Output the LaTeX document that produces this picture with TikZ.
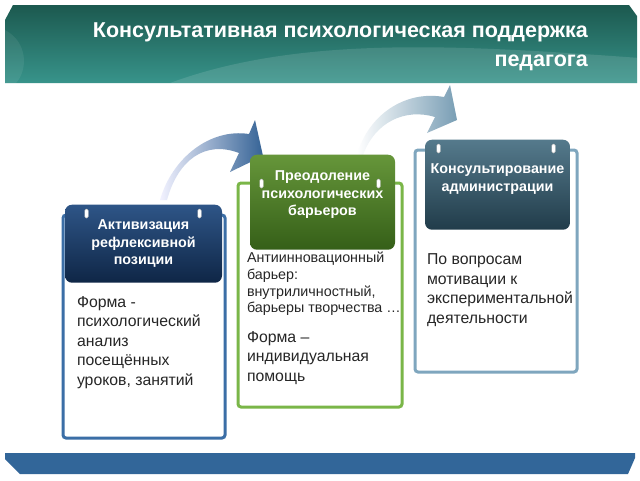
\documentclass[tikz,border=0pt]{standalone}
\usepackage{fontspec}
\setmainfont{Liberation Sans}
\usepackage{tikz}
\usetikzlibrary{positioning, calc}

\definecolor{bannertop}{HTML}{1A554B}
\definecolor{bannermid}{HTML}{1F6258}
\definecolor{bannerbot}{HTML}{3A9990}
\definecolor{barblue}{HTML}{326699}
\definecolor{textgray}{HTML}{262626}
\definecolor{frameblue}{HTML}{3B6EA6}
\definecolor{framegreen}{HTML}{7AB648}
\definecolor{framesteel}{HTML}{7FA6BE}
\definecolor{navytop}{HTML}{2E5587}
\definecolor{navybot}{HTML}{0F2646}
\definecolor{greentop}{HTML}{66963A}
\definecolor{greenbot}{HTML}{355F18}
\definecolor{slatetop}{HTML}{557A8C}
\definecolor{slatebot}{HTML}{213C4A}

\begin{document}
\begin{tikzpicture}[
			x=1pt, y=-1pt,
			every node/.style={inner sep=0pt},
			cardframe/.style={draw=#1, line width=3pt, rounded corners=3pt, fill=white, minimum width=162pt, minimum height=223pt},
			cardhead/.style={rounded corners=7pt, minimum width=145pt, minimum height=90pt},
			headtext/.style={text=white, font=\bfseries\fontsize{14.3}{17.5}\selectfont, align=center},
			bodytext/.style={text=textgray, font=\fontsize{15.8}{19.5}\selectfont, align=left},
			pin/.style={fill=white, draw=gray!50, line width=0.4pt, rounded corners=1.5pt, minimum width=3.5pt, minimum height=9pt}
			]
			\useasboundingbox (0,0) rectangle (640,480);
			\fill[white] (0,0) rectangle (640,480);
			
			% --- Banner with title ---
			\begin{scope}
				\path[clip] (5,20) -- (13,5) -- (629,5) -- (637,16) -- (637,83) -- (5,83) -- cycle;
				\path[top color=bannertop, middle color=bannermid, bottom color=bannerbot] (0,0) rectangle (640,90);
				\fill[white, opacity=0.12] (170,83) .. controls (300,35) and (460,45) .. (640,58) -- (640,90) -- (170,90) -- cycle; % light swirl
				\fill[white, opacity=0.07] (5,30) .. controls (28,42) and (28,70) .. (16,83) -- (5,83) -- cycle;
			\end{scope}
			\node[anchor=north east, text=white, align=right, font=\bfseries\fontsize{21.5}{29}\selectfont] (title) at (588,23) {Консультативная психологическая поддержка\\педагога};
			
			% --- Curved arrows between cards ---
			\shade[left color=blue!5!white, right color=frameblue!90!black] (160,200) .. controls (172,158) and (210,128) .. (249,134) -- (255,120) -- (263,156) -- (230,172) -- (239,153) .. controls (205,140) and (178,160) .. (167,200) -- cycle;
			\shade[left color=white, right color=framesteel!95!black] (357,155) .. controls (368,115) and (405,90) .. (444,97) -- (450,85) -- (457,120) -- (427,133) -- (435,117) .. controls (405,108) and (375,122) .. (363,155) -- cycle;
			
			% --- Card frames ---
			\node[cardframe=frameblue] (frA) at (144,326.5) {}; % Frame 1
			\node[cardframe=framegreen, minimum width=164pt, minimum height=224pt] (frB) at (320,295) {}; % Frame 2
			\node[cardframe=framesteel, minimum height=222pt] (frC) at (496,261) {}; % Frame 3
			
			% --- Card headers ---
			\node[cardhead, top color=navytop, bottom color=navybot, minimum width=157pt, minimum height=78pt, below=-9pt of frA.north, xshift=-0.5pt] (hdA) {};
			\node[cardhead, top color=greentop, bottom color=greenbot, minimum height=95pt, below=-27pt of frB.north, xshift=2.5pt] (hdB) {};
			\node[cardhead, top color=slatetop, bottom color=slatebot, below=-9pt of frC.north, xshift=1.5pt] (hdC) {};
			
			% --- Pins ---
			\node[pin] (pinAl) at ($(frA.north west)+(25,0)$) {};
			\node[pin] (pinAr) at ($(frA.north east)+(-27,0)$) {};
			\node[pin] (pinBl) at ($(frB.north west)+(25,2)$) {};
			\node[pin] (pinBr) at ($(frB.north east)+(-25,2)$) {};
			\node[pin] (pinCl) at ($(frC.north west)+(25,0)$) {};
			\node[pin] (pinCr) at ($(frC.north east)+(-25,0)$) {};
			
			% --- Header texts ---
			\node[headtext, below=15pt of hdA.north] (tA) {Активизация\\рефлексивной\\позиции};
			\node[headtext, below=16pt of hdB.north] (tB) {Преодоление\\психологических\\барьеров};
			\node[headtext, below=24pt of hdC.north] (tC) {Консультирование\\администрации};
			
			% --- Body texts ---
			\node[bodytext, below right=13pt and 12pt of hdA.south west] (bA) {Форма -\\психологический\\анализ\\посещённых\\уроков, занятий};
			\node[bodytext, font=\fontsize{14.3}{16.7}\selectfont, below right=2pt and -3pt of hdB.south west] (bB) {Антиинновационный\\барьер:\\внутриличностный,\\барьеры творчества …};
			\node[bodytext, below right=15pt and 0pt of bB.south west] (bB2) {Форма –\\индивидуальная\\помощь};
			\node[bodytext, below right=24pt and 2pt of hdC.south west] (bC) {По вопросам\\мотивации к\\экспериментальной\\деятельности};
			
			% --- Bottom bar ---
			\fill[barblue] (5,453) -- (635,453) -- (635,458) -- (628,474) -- (20,474) -- (5,459) -- cycle;
			
		\end{tikzpicture}
\end{document}
